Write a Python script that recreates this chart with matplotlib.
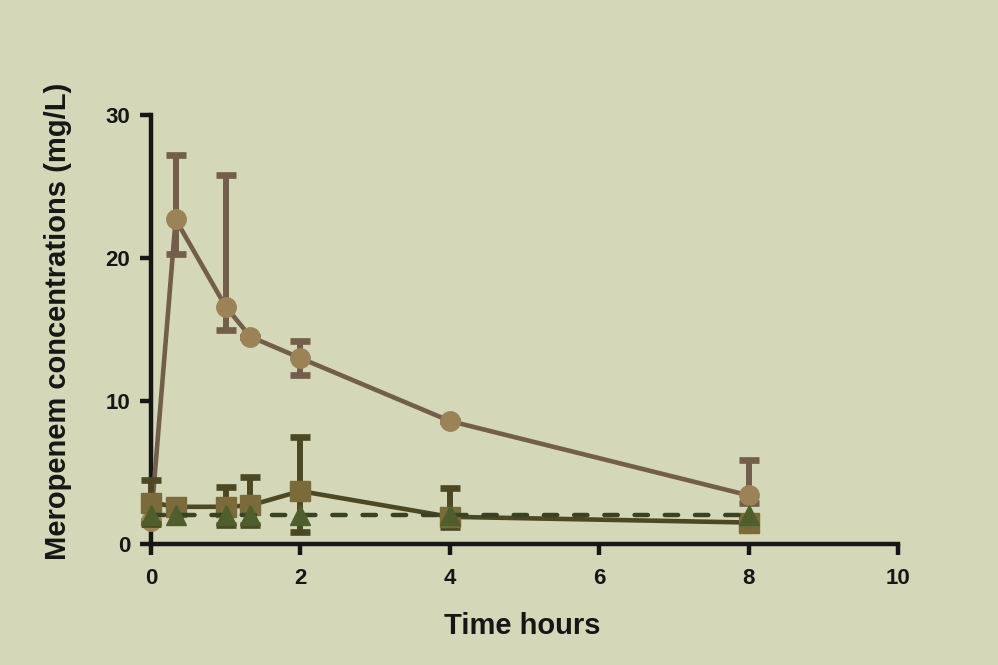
import matplotlib.pyplot as plt
import numpy as np

# data
time = [0, 0.33, 1, 1.33, 2, 4, 8]

circ_y = [1.6, 22.7, 16.6, 14.5, 13.0, 8.6, 3.4]
circ_lo = [0, 2.4, 1.6, 0, 1.2, 0, 0.5]
circ_hi = [0, 4.5, 9.2, 0, 1.2, 0, 2.5]

sq_y = [2.9, 2.6, 2.6, 2.7, 3.7, 1.9, 1.5]
sq_lo = [1.5, 0, 1.3, 1.4, 2.85, 0.7, 0]
sq_hi = [1.6, 0, 1.4, 2.0, 3.8, 2.0, 0]

tri_y = [2.0, 2.0, 2.0, 2.0, 2.0, 2.0, 2.0]

xticks = [0, 2, 4, 6, 8, 10]
yticks = [0, 10, 20, 30]

BG = '#D4D8B8'
INK = '#161616'

plt.rcParams['font.family'] = ['Liberation Sans', 'DejaVu Sans']
plt.rcParams['font.weight'] = 'bold'

fig = plt.figure(figsize=(9.98, 6.65), dpi=100, facecolor=BG)
ax = fig.add_axes([0.1513, 0.182, 0.7485, 0.645])
ax.set_facecolor(BG)

# circles
ax.errorbar(time, circ_y, yerr=[circ_lo, circ_hi], color='#725E4A', lw=3.3,
            elinewidth=4.3, capsize=7.5, capthick=4.8, marker='o',
            markersize=14, markerfacecolor='#9B8357', markeredgecolor='#9B8357',
            zorder=3, clip_on=False)

# squares
ax.errorbar(time, sq_y, yerr=[sq_lo, sq_hi], color='#4D4824', lw=3.3,
            elinewidth=4.3, capsize=7.5, capthick=4.8, marker='s',
            markersize=14, markerfacecolor='#7B6B3B', markeredgecolor='#7B6B3B',
            zorder=4, clip_on=False)

# triangles with dashed line
ax.plot(time, tri_y, color='#3A4224', lw=3.2, ls=(0, (3, 3.8)),
        dash_capstyle='round', zorder=5, clip_on=False)
ax.plot(time, tri_y, ls='none', marker='^', markersize=14,
        markerfacecolor='#4E5F2D', markeredgecolor='#4E5F2D', zorder=6,
        clip_on=False)

ax.set_xlim(0, 10)
ax.set_ylim(0, 30)
ax.set_xticks(xticks)
ax.set_yticks(yticks)

for s in ['top', 'right']:
    ax.spines[s].set_visible(False)
for s in ['left', 'bottom']:
    ax.spines[s].set_linewidth(3.2)
    ax.spines[s].set_color(INK)
ax.tick_params(width=3.2, length=8, color=INK, labelsize=16)
ax.tick_params(axis='x', pad=9)
ax.tick_params(axis='y', pad=7)
for lab in ax.get_xticklabels() + ax.get_yticklabels():
    lab.set_fontweight('bold')
    lab.set_color(INK)

ax.set_xlabel('Time hours', fontsize=21, fontweight='bold', color=INK)
ax.xaxis.set_label_coords(0.497, -0.158)
ax.set_ylabel('Meropenem concentrations (mg/L)', fontsize=21,
              fontweight='bold', color=INK)
ax.yaxis.set_label_coords(-0.106, 0.52)

fig.savefig('out.png', dpi=100, facecolor=BG)
